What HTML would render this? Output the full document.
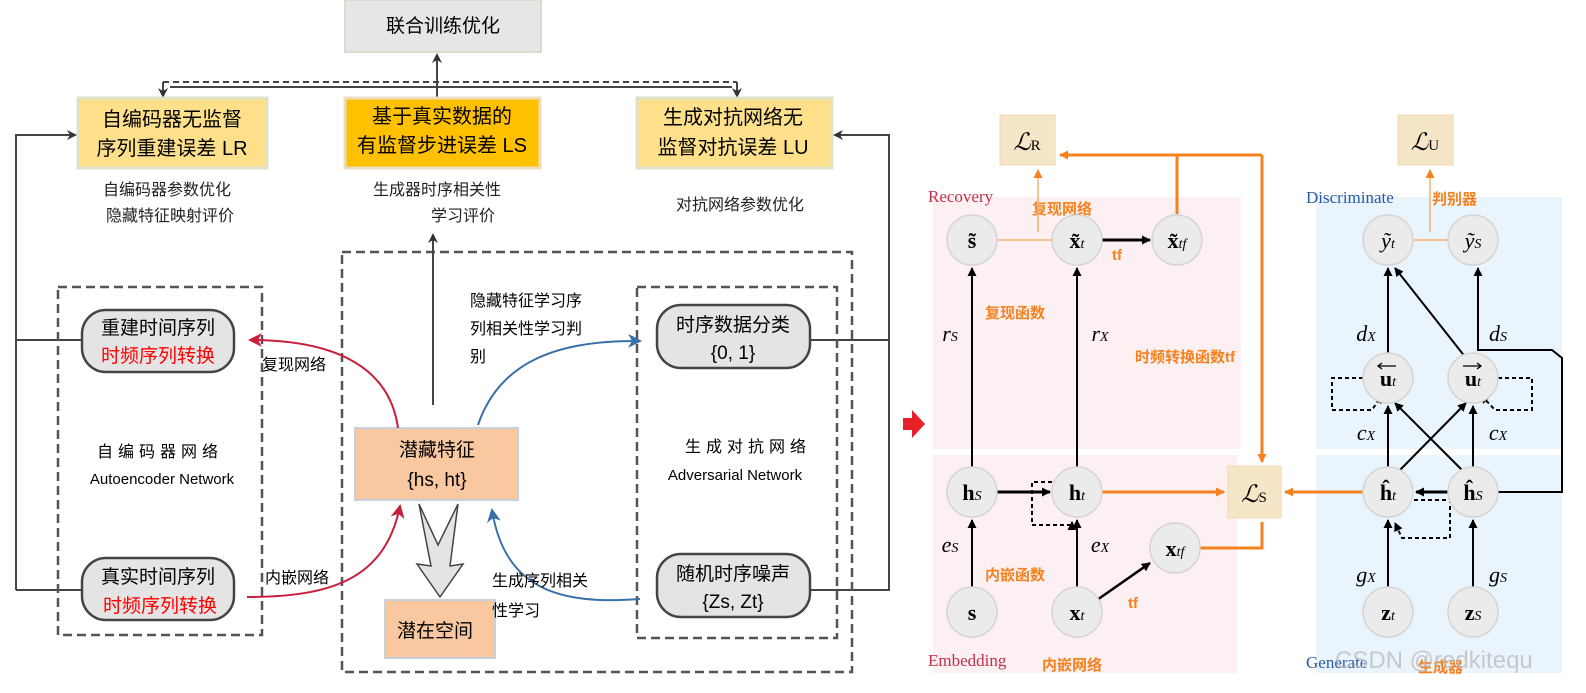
<!DOCTYPE html>
<html><head><meta charset="utf-8"><style>
html,body{margin:0;padding:0;background:#fff;}
svg{display:block;font-family:"Liberation Sans","Noto Sans CJK SC",sans-serif;}
.s{font-family:"Liberation Serif","Noto Serif CJK SC",serif;}
</style></head><body>
<svg width="1586" height="693" viewBox="0 0 1586 693" xmlns="http://www.w3.org/2000/svg">
<defs>
<marker id="ab" markerWidth="10" markerHeight="10" refX="8" refY="5" orient="auto" markerUnits="userSpaceOnUse"><path d="M0,0 L10,5 L0,10 L3,5Z" fill="#333"/></marker>
<marker id="ak" markerWidth="9" markerHeight="9" refX="8" refY="4.5" orient="auto" markerUnits="userSpaceOnUse"><path d="M0,0 L9,4.5 L0,9Z" fill="#000"/></marker>
<marker id="ar" markerWidth="14" markerHeight="14" refX="12" refY="7" orient="auto" markerUnits="userSpaceOnUse"><path d="M0,0 L14,7 L0,14 L4,7Z" fill="#c8203c"/></marker>
<marker id="abl" markerWidth="14" markerHeight="14" refX="12" refY="7" orient="auto" markerUnits="userSpaceOnUse"><path d="M0,0 L14,7 L0,14 L4,7Z" fill="#3a70a8"/></marker>
<marker id="ao" markerWidth="9" markerHeight="9" refX="8" refY="4.5" orient="auto" markerUnits="userSpaceOnUse"><path d="M0,0 L9,4.5 L0,9Z" fill="#f5821f"/></marker>
</defs>

<!-- LEFT PANEL -->
<rect x="345" y="0" width="196" height="52" fill="#e6e6e6" stroke="#d8dccc" stroke-width="2"/>
<text x="443" y="32" font-size="19" text-anchor="middle">联合训练优化</text>
<line x1="437" y1="98" x2="437" y2="55" stroke="#444" stroke-width="2" marker-end="url(#ab)"/>
<line x1="163" y1="82" x2="737" y2="82" stroke="#444" stroke-width="2" stroke-dasharray="6,4"/>
<line x1="170" y1="87" x2="732" y2="87" stroke="#444" stroke-width="2"/>
<line x1="163" y1="82" x2="163" y2="96" stroke="#444" stroke-width="2" marker-end="url(#ab)"/>
<line x1="737" y1="82" x2="737" y2="96" stroke="#444" stroke-width="2" marker-end="url(#ab)"/>

<rect x="78" y="98" width="189" height="70" fill="#ffe08a" stroke="#dde2c8" stroke-width="3"/>
<text x="172" y="126" font-size="20" text-anchor="middle">自编码器无监督</text>
<text x="172" y="155" font-size="20" text-anchor="middle">序列重建误差 LR</text>
<rect x="345" y="98" width="195" height="70" fill="#ffc000" stroke="#ecdcc0" stroke-width="3"/>
<text x="442" y="123" font-size="20" text-anchor="middle">基于真实数据的</text>
<text x="442" y="152" font-size="20" text-anchor="middle">有监督步进误差 LS</text>
<rect x="637" y="98" width="195" height="70" fill="#ffe08a" stroke="#dde2c8" stroke-width="3"/>
<text x="733" y="124" font-size="20" text-anchor="middle">生成对抗网络无</text>
<text x="733" y="154" font-size="20" text-anchor="middle">监督对抗误差 LU</text>

<text x="167" y="195" font-size="16" text-anchor="middle" fill="#222">自编码器参数优化</text>
<text x="170" y="221" font-size="16" text-anchor="middle" fill="#222">隐藏特征映射评价</text>
<text x="437" y="195" font-size="16" text-anchor="middle" fill="#222">生成器时序相关性</text>
<text x="463" y="221" font-size="16" text-anchor="middle" fill="#222">学习评价</text>
<text x="740" y="210" font-size="16" text-anchor="middle" fill="#222">对抗网络参数优化</text>

<polyline points="82,340 16,340 16,135 75,135" fill="none" stroke="#444" stroke-width="2" marker-end="url(#ab)"/>
<line x1="16" y1="590" x2="82" y2="590" stroke="#444" stroke-width="2"/>
<line x1="16" y1="340" x2="16" y2="590" stroke="#444" stroke-width="2"/>
<polyline points="810,340 889,340 889,135 835,135" fill="none" stroke="#444" stroke-width="2" marker-end="url(#ab)"/>
<polyline points="808,590 889,590 889,340" fill="none" stroke="#444" stroke-width="2"/>

<rect x="58" y="287" width="204" height="348" fill="none" stroke="#555" stroke-width="2.5" stroke-dasharray="9,5"/>
<rect x="342" y="252" width="510" height="420" fill="none" stroke="#555" stroke-width="2.5" stroke-dasharray="9,5"/>
<rect x="637" y="287" width="200" height="351" fill="none" stroke="#555" stroke-width="2.5" stroke-dasharray="9,5"/>
<line x1="433" y1="405" x2="433" y2="235" stroke="#444" stroke-width="2" marker-end="url(#ab)"/>

<rect x="82" y="310" width="152" height="62" rx="24" fill="#e4e4e4" stroke="#444" stroke-width="2.5"/>
<text x="158" y="334" font-size="19" text-anchor="middle">重建时间序列</text>
<text x="158" y="362" font-size="19" text-anchor="middle" fill="#ff0000">时频序列转换</text>
<rect x="82" y="558" width="152" height="62" rx="24" fill="#e4e4e4" stroke="#444" stroke-width="2.5"/>
<text x="158" y="583" font-size="19" text-anchor="middle">真实时间序列</text>
<text x="160" y="612" font-size="19" text-anchor="middle" fill="#ff0000">时频序列转换</text>
<rect x="657" y="305" width="153" height="63" rx="24" fill="#e4e4e4" stroke="#444" stroke-width="2.5"/>
<text x="733" y="331" font-size="19" text-anchor="middle">时序数据分类</text>
<text x="733" y="359" font-size="19" text-anchor="middle">{0, 1}</text>
<rect x="657" y="554" width="153" height="63" rx="24" fill="#e4e4e4" stroke="#444" stroke-width="2.5"/>
<text x="733" y="580" font-size="19" text-anchor="middle">随机时序噪声</text>
<text x="733" y="608" font-size="19" text-anchor="middle">{Zs, Zt}</text>

<text x="160" y="457" font-size="16" text-anchor="middle" letter-spacing="5">自编码器网络</text>
<text x="162" y="484" font-size="15" text-anchor="middle">Autoencoder Network</text>
<text x="748" y="452" font-size="16" text-anchor="middle" letter-spacing="5">生成对抗网络</text>
<text x="735" y="480" font-size="15" text-anchor="middle">Adversarial Network</text>

<rect x="355" y="428" width="163" height="72" fill="#f9c8a0" stroke="#c8d0dc" stroke-width="2"/>
<text x="437" y="456" font-size="19" text-anchor="middle">潜藏特征</text>
<text x="437" y="486" font-size="19" text-anchor="middle">{hs, ht}</text>
<rect x="385" y="600" width="110" height="58" fill="#f9c8a0" stroke="#c8d0dc" stroke-width="2"/>
<text x="435" y="637" font-size="19" text-anchor="middle">潜在空间</text>
<path d="M419,504 L438,545 L458,504 L450,566 L463,564 L440,597 L417,564 L431,566 Z" fill="#e4e4e4" stroke="#444" stroke-width="1.5"/>

<path d="M398,428 C390,370 340,340 250,340" fill="none" stroke="#c8203c" stroke-width="2" marker-end="url(#ar)"/>
<text x="262" y="370" font-size="16">复现网络</text>
<path d="M247,597 C330,597 385,580 400,506" fill="none" stroke="#c8203c" stroke-width="2" marker-end="url(#ar)"/>
<text x="265" y="583" font-size="16">内嵌网络</text>
<path d="M478,425 C500,360 560,340 640,341" fill="none" stroke="#3a70a8" stroke-width="2" marker-end="url(#abl)"/>
<path d="M640,599 C560,605 505,590 492,510" fill="none" stroke="#3a70a8" stroke-width="2" marker-end="url(#abl)"/>
<text x="470" y="306" font-size="16">隐藏特征学习序</text>
<text x="470" y="334" font-size="16">列相关性学习判</text>
<text x="470" y="362" font-size="16">别</text>
<text x="492" y="586" font-size="16">生成序列相关</text>
<text x="492" y="616" font-size="16">性学习</text>

<!-- red arrow -->
<path d="M903,418 L912,418 L912,410 L925,424 L912,438 L912,430 L903,430 Z" fill="#e8202a"/>

<!-- RIGHT PANEL backgrounds -->
<rect x="933" y="197" width="308" height="252" fill="#fdf0f2"/>
<rect x="933" y="455" width="304" height="218" fill="#fdf0f2"/>
<rect x="1316" y="197" width="246" height="252" fill="#eaf4fc"/>
<rect x="1316" y="455" width="246" height="218" fill="#eaf4fc"/>

<rect x="1000" y="115" width="55" height="50" fill="#f6e6c8" stroke="#f0d8b0"/>
<text x="1027" y="150" font-size="24" text-anchor="middle" class="s" font-style="italic">ℒ<tspan font-size="15" font-style="normal">R</tspan></text>
<rect x="1398" y="115" width="55" height="50" fill="#f6e6c8" stroke="#f0d8b0"/>
<text x="1425" y="150" font-size="24" text-anchor="middle" class="s" font-style="italic">ℒ<tspan font-size="15" font-style="normal">U</tspan></text>
<rect x="1228" y="466" width="53" height="52" fill="#f6e6c8" stroke="#f0d8b0"/>
<text x="1254" y="502" font-size="24" text-anchor="middle" class="s" font-style="italic">ℒ<tspan font-size="15" font-style="normal">S</tspan></text>

<text x="928" y="202" font-size="17" fill="#c0304a" class="s">Recovery</text>
<text x="928" y="666" font-size="17" fill="#c0304a" class="s">Embedding</text>
<text x="1306" y="203" font-size="17" fill="#2a5aa8" class="s">Discriminate</text>
<text x="1306" y="668" font-size="17" fill="#2a5aa8" class="s">Generate</text>

<g font-weight="bold" fill="#f5821f" font-size="15">
<text x="1032" y="214">复现网络</text>
<text x="1432" y="204">判别器</text>
<text x="985" y="318">复现函数</text>
<text x="1135" y="362">时频转换函数tf</text>
<text x="985" y="580">内嵌函数</text>
<text x="1042" y="670">内嵌网络</text>
<text x="1418" y="672">生成器</text>
<text x="1112" y="260">tf</text>
<text x="1128" y="608">tf</text>
</g>

<!-- orange connectors -->
<g stroke="#f5821f" fill="none" stroke-width="3">
<polyline points="1262,155 1060,155" marker-end="url(#ao)"/>
<line x1="1262" y1="155" x2="1262" y2="462" marker-end="url(#ao)"/>
<line x1="1177" y1="155" x2="1177" y2="214"/>
<line x1="1102" y1="492" x2="1224" y2="492" marker-end="url(#ao)"/>
<line x1="1363" y1="492" x2="1285" y2="492" marker-end="url(#ao)"/>
<polyline points="1200,548 1262,548 1262,522"/>
</g>
<g stroke="#f5b070" fill="none" stroke-width="1.5">
<polyline points="997,240 1052,240"/>
<line x1="1038" y1="232" x2="1038" y2="170" marker-end="url(#ao)"/>
<polyline points="1413,240 1448,240"/>
<line x1="1430" y1="232" x2="1430" y2="170" marker-end="url(#ao)"/>
</g>

<!-- black connectors -->
<g stroke="#000" stroke-width="2" fill="none">
<line x1="972" y1="467" x2="972" y2="268" marker-end="url(#ak)"/>
<line x1="1077" y1="467" x2="1077" y2="268" marker-end="url(#ak)"/>
<line x1="1102" y1="240" x2="1150" y2="240" stroke-width="3" marker-end="url(#ak)"/>
<line x1="997" y1="492" x2="1050" y2="492" stroke-width="3" marker-end="url(#ak)"/>
<line x1="972" y1="587" x2="972" y2="520" marker-end="url(#ak)"/>
<line x1="1077" y1="587" x2="1077" y2="520" marker-end="url(#ak)"/>
<line x1="1097" y1="600" x2="1150" y2="563" stroke-width="2.5" marker-end="url(#ak)"/>
<path d="M1052,482 L1032,482 L1032,525 L1072,525 L1072,522" stroke-dasharray="4,3" marker-end="url(#ak)"/>
<line x1="1388" y1="587" x2="1388" y2="520" marker-end="url(#ak)"/>
<line x1="1473" y1="587" x2="1473" y2="520" marker-end="url(#ak)"/>
<line x1="1448" y1="492" x2="1416" y2="492" stroke-width="3" marker-end="url(#ak)"/>
<path d="M1414,500 L1450,500 L1450,538 L1402,538 L1395,523" stroke-dasharray="4,3" marker-end="url(#ak)"/>
<line x1="1388" y1="467" x2="1388" y2="406" marker-end="url(#ak)"/>
<line x1="1473" y1="467" x2="1473" y2="406" marker-end="url(#ak)"/>
<line x1="1400" y1="470" x2="1466" y2="403" marker-end="url(#ak)"/>
<line x1="1462" y1="470" x2="1395" y2="403" marker-end="url(#ak)"/>
<line x1="1388" y1="353" x2="1388" y2="268" marker-end="url(#ak)"/>
<line x1="1466" y1="358" x2="1395" y2="268" marker-end="url(#ak)"/>
<path d="M1498,492 L1562,492 L1562,358 L1552,350 L1478,350 L1478,268" marker-end="url(#ak)"/>
<path d="M1363,378 L1332,378 L1332,410 L1372,410 L1382,395" stroke-dasharray="4,3" marker-end="url(#ak)"/>
<path d="M1498,378 L1532,378 L1532,410 L1495,410 L1481,395" stroke-dasharray="4,3" marker-end="url(#ak)"/>
</g>

<!-- circles -->
<g fill="#ebebeb" stroke="#d4d4d4" stroke-width="1.5">
<circle cx="972" cy="240" r="25"/><circle cx="1077" cy="240" r="25"/><circle cx="1177" cy="240" r="25"/>
<circle cx="972" cy="492" r="25"/><circle cx="1077" cy="492" r="25"/><circle cx="1175" cy="548" r="25"/>
<circle cx="972" cy="612" r="25"/><circle cx="1077" cy="612" r="25"/>
<circle cx="1388" cy="240" r="25"/><circle cx="1473" cy="240" r="25"/>
<circle cx="1388" cy="378" r="25"/><circle cx="1473" cy="378" r="25"/>
<circle cx="1388" cy="492" r="25"/><circle cx="1473" cy="492" r="25"/>
<circle cx="1388" cy="612" r="25"/><circle cx="1473" cy="612" r="25"/>
</g>
<g class="s" font-size="22" text-anchor="middle" font-weight="bold">
<text x="972" y="248">s̃</text><text x="1077" y="248">x̃<tspan font-size="14" font-weight="normal" font-style="italic">t</tspan></text><text x="1177" y="248">x̃<tspan font-size="14" font-weight="normal" font-style="italic">tf</tspan></text>
<text x="972" y="500">h<tspan font-size="14" font-weight="normal" font-style="italic">S</tspan></text><text x="1077" y="500">h<tspan font-size="14" font-weight="normal" font-style="italic">t</tspan></text><text x="1175" y="556">x<tspan font-size="14" font-weight="normal" font-style="italic">tf</tspan></text>
<text x="972" y="620">s</text><text x="1077" y="620">x<tspan font-size="14" font-weight="normal" font-style="italic">t</tspan></text>
<text x="1388" y="386">u<tspan font-size="14" font-weight="normal" font-style="italic">t</tspan></text><text x="1473" y="386">u<tspan font-size="14" font-weight="normal" font-style="italic">t</tspan></text>
<text x="1388" y="500">ĥ<tspan font-size="14" font-weight="normal" font-style="italic">t</tspan></text><text x="1473" y="500">ĥ<tspan font-size="14" font-weight="normal" font-style="italic">S</tspan></text>
<text x="1388" y="620">z<tspan font-size="14" font-weight="normal" font-style="italic">t</tspan></text><text x="1473" y="620">z<tspan font-size="14" font-weight="normal" font-style="italic">S</tspan></text>
</g>
<g stroke="#000" stroke-width="1.3">
<line x1="1378" y1="366" x2="1396" y2="366"/><path d="M1382,363 L1378,366 L1382,369" fill="none"/>
<line x1="1463" y1="366" x2="1481" y2="366"/><path d="M1477,363 L1481,366 L1477,369" fill="none"/>
</g>
<g class="s" font-size="22" text-anchor="middle" font-style="italic">
<text x="1388" y="248">ỹ<tspan font-size="14">t</tspan></text><text x="1473" y="248">ỹ<tspan font-size="14">S</tspan></text>
<text x="950" y="341">r<tspan font-size="14">S</tspan></text><text x="1100" y="341">r<tspan font-size="14">X</tspan></text>
<text x="950" y="552">e<tspan font-size="14">S</tspan></text><text x="1100" y="552">e<tspan font-size="14">X</tspan></text>
<text x="1366" y="341">d<tspan font-size="14">X</tspan></text><text x="1498" y="341">d<tspan font-size="14">S</tspan></text>
<text x="1366" y="440">c<tspan font-size="14">X</tspan></text><text x="1498" y="440">c<tspan font-size="14">X</tspan></text>
<text x="1366" y="582">g<tspan font-size="14">X</tspan></text><text x="1498" y="582">g<tspan font-size="14">S</tspan></text>
</g>
<text x="1335" y="668" font-size="24" fill="#bbb" opacity="0.75">CSDN @redkitequ</text>
</svg>
</body></html>
